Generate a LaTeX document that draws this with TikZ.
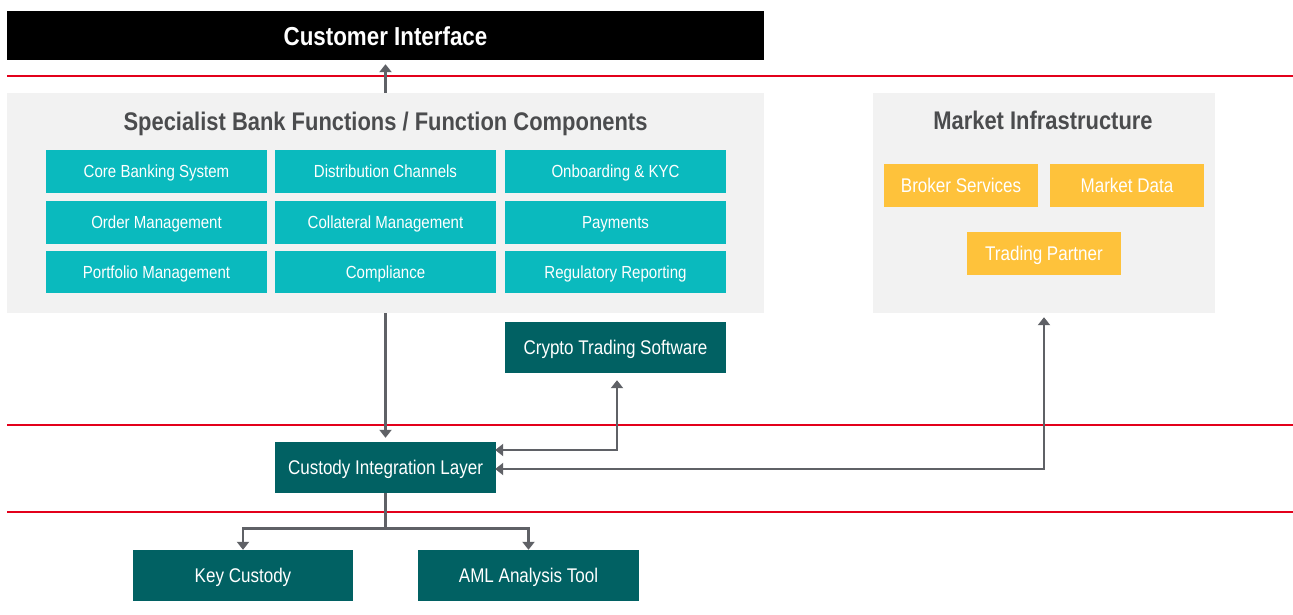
\documentclass[tikz,border=0pt]{standalone}
\usepackage{fontspec}
\setmainfont{Liberation Sans}[FakeStretch=0.86]
\newfontfamily\titlefont{Liberation Sans}[FakeStretch=0.86]
\usetikzlibrary{arrows.meta}
\definecolor{panelgray}{HTML}{F2F2F2}
\definecolor{tealbox}{HTML}{0ABABE}
\definecolor{darkteal}{HTML}{016163}
\definecolor{yellowbox}{HTML}{FEC23B}
\definecolor{redline}{HTML}{E3001B}
\definecolor{titlegray}{HTML}{4B4C4E}
\definecolor{arrowgray}{HTML}{5F6166}
\tikzset{
  panel/.style={fill=panelgray, draw=none, inner sep=0pt},
  gridbox/.style={fill=tealbox, text=white, minimum width=221pt, minimum height=43pt, inner sep=0pt,
    text height=12.6pt, text depth=0.6pt, font=\fontsize{17.5}{20}\selectfont},
  darkbox/.style={fill=darkteal, text=white, minimum width=221pt, minimum height=51pt, inner sep=0pt,
    text height=14pt, text depth=0.6pt, font=\fontsize{19.8}{22}\selectfont},
  yelbox/.style={fill=yellowbox, text=white, minimum width=154pt, minimum height=43pt, inner sep=0pt,
    text height=14pt, text depth=0.6pt, font=\fontsize{19.8}{22}\selectfont},
  paneltitle/.style={text=titlegray, font=\titlefont\bfseries\fontsize{25.5}{28}\selectfont, inner sep=0pt,
    text height=18pt, text depth=0pt},
  sep/.style={draw=redline, line width=1.2pt},
  arr/.style={draw=arrowgray, line width=2.7pt, -{Triangle[width=12pt,length=8pt]}},
  darr/.style={draw=arrowgray, line width=2.7pt, {Triangle[width=12pt,length=8pt]}-{Triangle[width=12pt,length=8pt]}},
}
\begin{document}
\begin{tikzpicture}[x=1pt,y=-1pt]
\useasboundingbox[fill=white] (0,0) rectangle (1293,615);
% separators
\draw[sep] (7,76) -- (1293,76);
\draw[sep] (7,425) -- (1293,425);
\draw[sep] (7,512) -- (1293,512);
% customer interface
\node[fill=black, minimum width=757pt, minimum height=49pt, inner sep=0pt] (ci) at (385.5,35.5) {};
\node[text=white, inner sep=0pt, text height=18pt, text depth=0pt,
      font=\titlefont\bfseries\fontsize{26}{28}\selectfont] (citext) at (385.5,37) {Customer Interface};
% specialist panel
\node[panel, minimum width=757pt, minimum height=220pt] (spec) at (385.5,203) {};
\node[paneltitle] (spectitle) at (385.5,121.5) {Specialist Bank Functions / Function Components};
\node[gridbox] (cbs) at (156.5,171.5) {Core Banking System};
\node[gridbox] (dc)  at (385.5,171.5) {Distribution Channels};
\node[gridbox] (kyc) at (615.5,171.5) {Onboarding \& KYC};
\node[gridbox] (om)  at (156.5,222.5) {Order Management};
\node[gridbox] (cm)  at (385.5,222.5) {Collateral Management};
\node[gridbox] (pay) at (615.5,222.5) {Payments};
\node[gridbox, minimum height=42pt] (pm)  at (156.5,272) {Portfolio Management};
\node[gridbox, minimum height=42pt] (comp) at (385.5,272) {Compliance};
\node[gridbox, minimum height=42pt] (rr)  at (615.5,272) {Regulatory Reporting};
% market panel
\node[panel, minimum width=342pt, minimum height=220pt] (mkt) at (1044,203) {};
\node[paneltitle] (mkttitle) at (1043,121) {Market Infrastructure};
\node[yelbox] (bs) at (961,185.5) {Broker Services};
\node[yelbox] (md) at (1127,185.5) {Market Data};
\node[yelbox] (tp) at (1044,253.5) {Trading Partner};
% dark boxes
\node[darkbox] (cts) at (615.5,347.5) {Crypto Trading Software};
\node[darkbox] (cil) at (385.5,467.5) {Custody Integration Layer};
\node[darkbox, minimum width=220pt] (kc) at (243,575.5) {Key Custody};
\node[darkbox] (aml) at (528.5,575.5) {AML Analysis Tool};
% connectors
\draw[arr, shorten >=4pt] (spec.north) -- (ci.south);
\draw[arr, shorten >=4pt] (spec.south) -- (cil.north);
\draw[darr, shorten >=7pt, shorten <=-1pt] ([yshift=17.5pt]cil.east) -| ([xshift=1.5pt]cts.south);
\draw[darr, shorten >=4pt, shorten <=-1pt] ([yshift=-1.5pt]cil.east) -| (mkt.south);
\draw[arr] (cil.south) -- ++(0,35) coordinate (split) -| (kc.north);
\draw[arr] (split) -| (aml.north);
\end{tikzpicture}
\end{document}
